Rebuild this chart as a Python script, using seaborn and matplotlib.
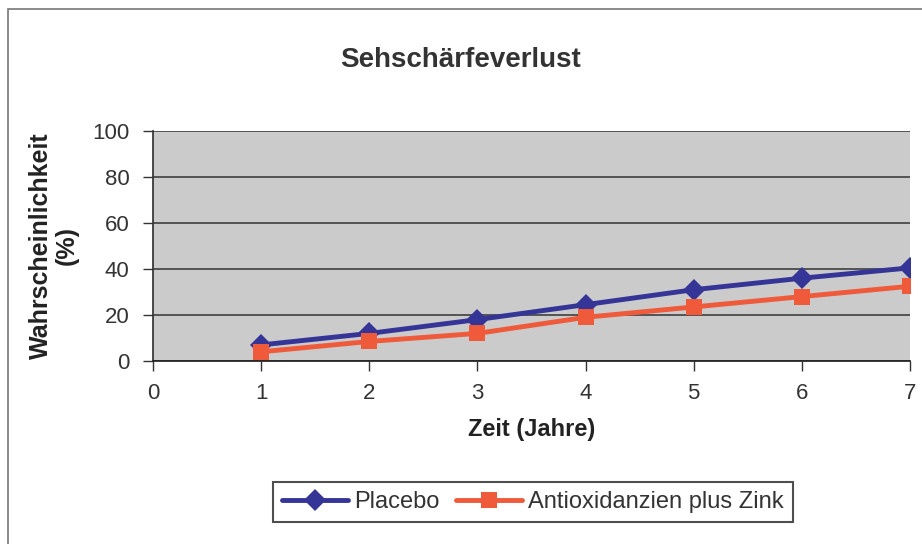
import pandas as pd
import numpy as np
import matplotlib
matplotlib.use("Agg")
import matplotlib.pyplot as plt
import seaborn as sns

# Data
jahre = [1, 2, 3, 4, 5, 6, 7]
placebo = [7, 12, 18, 24.5, 31, 36, 40.5]
antiox_zink = [4, 8.5, 12, 19, 23.5, 28, 32.5]
serien = ["Placebo", "Antioxidanzien plus Zink"]

df = pd.DataFrame({
    "Jahr": jahre * 2,
    "Wert": placebo + antiox_zink,
    "Gruppe": [serien[0]] * len(jahre) + [serien[1]] * len(jahre),
})

sns.set_theme(style="white")
plt.rcParams['font.family'] = ['Liberation Sans', 'DejaVu Sans']

fig = plt.figure(figsize=(9.22, 5.44), dpi=100)
ax = fig.add_axes([0.166, 0.3364, 0.821, 0.4228])
ax.set_facecolor("#cbcbcb")

# ===== Lines =====
sns.lineplot(data=df, x="Jahr", y="Wert", hue="Gruppe", style="Gruppe",
             palette={serien[0]: "#353597", serien[1]: "#ef5a3a"},
             markers={serien[0]: "D", serien[1]: "s"}, dashes=False,
             markersize=11, linewidth=3.5, markeredgewidth=0, ax=ax)

ax.set_xlim(0, 7)
ax.set_ylim(0, 100)
ax.set_xticks(range(0, 8))
ax.set_yticks(range(0, 101, 20))
ax.yaxis.grid(True, color="#4a4a4a", linewidth=1.3)
ax.set_axisbelow(True)
for s in ["top", "right"]:
    ax.spines[s].set_visible(False)
ax.spines["left"].set_color("#333333")
ax.spines["bottom"].set_color("#222222")
ax.tick_params(axis="both", labelsize=16, colors="#333333", direction="out",
               length=7, width=1.0, left=True, bottom=True, pad=10)
ax.tick_params(axis="x", pad=9)

ax.set_xlabel("Zeit (Jahre)", fontsize=17, fontweight="bold", color="#222222", labelpad=10)
ax.set_ylabel("Wahrscheinlichkeit\n(%)", fontsize=18, fontweight="bold", color="#222222",
              labelpad=10, linespacing=1.05)
fig.text(0.5, 0.89, "Sehschärfeverlust", ha="center", va="center",
         fontsize=20, fontweight="bold", color="#333333")

leg = ax.legend(loc="center", ncol=2, frameon=True, fontsize=17, handlelength=2.8,
                columnspacing=0.7, handletextpad=0.25, fancybox=False, borderpad=0.38,
                borderaxespad=0)
leg.set_bbox_to_anchor((0.578, 0.077), transform=fig.transFigure)
leg.get_frame().set_edgecolor("#222222")
leg.get_frame().set_linewidth(1.5)
for t in leg.get_texts():
    t.set_color("#333333")

# outer chart border
fig.patches.append(plt.Rectangle((0.009, -0.01), 1.0, 0.993, transform=fig.transFigure,
                                 fill=False, edgecolor="#777777", linewidth=1.2))

fig.savefig("out.png", dpi=100)
